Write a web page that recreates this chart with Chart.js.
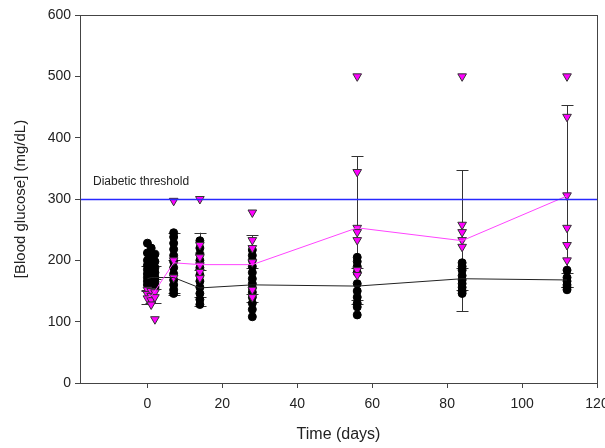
<!DOCTYPE html>
<html>
<head>
<meta charset="utf-8">
<script src="https://cdn.jsdelivr.net/npm/chart.js@4.4.0/dist/chart.umd.min.js"></script>
<style>
html, body { margin: 0; padding: 0; background: #fff; }
</style>
</head>
<body>
<canvas id="myChart" width="605" height="448"></canvas>
<script>
// Datos
const days = [0, 1, 2, 7, 14, 28, 56, 84, 112];
const xTicks = [0, 20, 40, 60, 80, 100, 120];
const yTicks = [0, 100, 200, 300, 400, 500, 600];
const threshold = 300;

// lecturas individuales por dia (control, circulos negros)
const controlReadings = [
    [228, 212, 200, 192, 185, 178, 172, 166, 160],
    [220, 205, 195, 182, 175, 168, 162, 158],
    [210, 198, 188, 180, 172, 165, 158, 155],
    [245, 238, 228, 218, 208, 198, 188, 178, 168, 160, 152, 146],
    [232, 220, 210, 200, 188, 176, 166, 156, 146, 136, 128],
    [217, 208, 200, 190, 180, 170, 162, 155, 148, 140, 130, 120, 108],
    [205, 198, 190, 180, 162, 150, 140, 130, 124, 111],
    [196, 190, 184, 175, 168, 162, 156, 150, 146],
    [184, 172, 166, 160, 156, 152]
];
// lecturas individuales por dia (diabeticos, triangulos magenta)
const diabeticReadings = [
    [152, 145, 138],
    [150, 142, 135, 128],
    [148, 140, 104],
    [297, 200, 172],
    [300, 225, 205, 192, 181, 171],
    [278, 233, 220, 197, 152, 140],
    [500, 344, 253, 246, 233, 184, 176],
    [500, 258, 246, 233, 222],
    [500, 434, 306, 253, 225, 200]
];

const controlMean = [170, 172, 172, 172, 155, 160, 158, 170, 168];
const controlSD = [20, 18, 18, 28, 30, 28, 30, 18, 12];
const diabeticMean = [140, 142, 150, 196, 193, 193, 253, 232, 305];
const diabeticSD = [12, 12, 20, 49, 52, 48, 117, 115, 148];

function toPoints(readings) {
    return days.flatMap((d, i) => readings[i].map(v => ({ x: d, y: v })));
}
function toLine(values) {
    return days.map((d, i) => ({ x: d, y: values[i] }));
}

Chart.defaults.font.family = '"Liberation Sans", Arial, sans-serif';
Chart.defaults.color = '#222';

// barras de error
const errorBars = {
    id: 'errorBars',
    beforeDatasetsDraw(chart) {
        const ctx = chart.ctx;
        const xs = chart.scales.x, ys = chart.scales.y;
        ctx.save();
        ctx.strokeStyle = '#333';
        ctx.lineWidth = 1;
        chart.data.datasets.forEach(ds => {
            if (!ds.sd) return;
            ds.data.forEach((p, i) => {
                const px = Math.round(xs.getPixelForValue(p.x)) + 0.5;
                const top = ys.getPixelForValue(p.y + ds.sd[i]);
                const bot = ys.getPixelForValue(p.y - ds.sd[i]);
                ctx.beginPath();
                ctx.moveTo(px, top); ctx.lineTo(px, bot);
                ctx.moveTo(px - 6, Math.round(top) + 0.5); ctx.lineTo(px + 6, Math.round(top) + 0.5);
                ctx.moveTo(px - 6, Math.round(bot) + 0.5); ctx.lineTo(px + 6, Math.round(bot) + 0.5);
                ctx.stroke();
            });
        });
        ctx.restore();
    }
};

// linea de umbral y marco
const thresholdLine = {
    id: 'thresholdLine',
    afterDatasetsDraw(chart) {
        const ctx = chart.ctx, a = chart.chartArea;
        const y = Math.round(chart.scales.y.getPixelForValue(threshold)) + 0.5;
        ctx.save();
        ctx.strokeStyle = 'rgb(40, 40, 255)';
        ctx.lineWidth = 1.3;
        ctx.beginPath();
        ctx.moveTo(a.left, y); ctx.lineTo(a.right, y);
        ctx.stroke();
        ctx.fillStyle = '#222';
        ctx.font = '12px "Liberation Sans", Arial, sans-serif';
        ctx.textBaseline = 'bottom';
        ctx.fillText('Diabetic threshold', a.left + 13, y - 12);
        ctx.restore();
    },
    afterDraw(chart) {
        const ctx = chart.ctx, a = chart.chartArea;
        ctx.save();
        ctx.strokeStyle = '#444';
        ctx.lineWidth = 1;
        ctx.strokeRect(Math.round(a.left) + 0.5, Math.round(a.top) + 0.5,
            Math.round(a.right - a.left), Math.round(a.bottom - a.top));
        ctx.restore();
    }
};

const config = {
    type: 'scatter',
    data: {
        datasets: [
            {
                label: 'Diabetic mean',
                type: 'line',
                data: toLine(diabeticMean),
                sd: diabeticSD,
                borderColor: '#ff44ff',
                borderWidth: 1,
                pointRadius: 0,
                fill: false,
                order: 1
            },
            {
                label: 'Control mean',
                type: 'line',
                data: toLine(controlMean),
                sd: controlSD,
                borderColor: '#222',
                borderWidth: 1,
                pointRadius: 0,
                fill: false,
                order: 2
            },
            {
                label: 'Diabetic',
                data: toPoints(diabeticReadings),
                pointStyle: 'triangle',
                rotation: 180,
                radius: 5,
                backgroundColor: '#ff00ff',
                borderColor: '#333',
                borderWidth: 1,
                order: 3
            },
            {
                label: 'Control',
                data: toPoints(controlReadings),
                pointStyle: 'circle',
                radius: 4,
                backgroundColor: '#000',
                borderColor: '#000',
                borderWidth: 1,
                order: 4
            }
        ]
    },
    options: {
        responsive: false,
        animation: false,
        layout: { padding: { top: 15, right: 8, left: 0, bottom: 0 } },
        plugins: {
            legend: { display: false },
            tooltip: { enabled: false }
        },
        scales: {
            x: {
                type: 'linear',
                min: -18,
                max: 120,
                afterBuildTicks: axis => { axis.ticks = xTicks.map(v => ({ value: v })); },
                afterFit: s => { s.height = 65; s.paddingLeft = 0; s.paddingRight = 0; },
                grid: { display: true, drawOnChartArea: false, drawTicks: true, tickLength: 5, color: '#444' },
                border: { display: true, color: '#444' },
                ticks: { font: { size: 14 }, color: '#222', padding: 8, maxRotation: 0 },
                title: { display: true, text: 'Time (days)', font: { size: 16 }, color: '#222', padding: { top: 6 } }
            },
            y: {
                type: 'linear',
                min: 0,
                max: 600,
                afterBuildTicks: axis => { axis.ticks = yTicks.map(v => ({ value: v })); },
                afterFit: s => { s.width = 80; s.paddingTop = 0; s.paddingBottom = 0; },
                grid: { display: true, drawOnChartArea: false, drawTicks: true, tickLength: 5, color: '#444' },
                border: { display: true, color: '#444' },
                ticks: { font: { size: 14 }, color: '#222', padding: 4 },
                title: { display: true, text: '[Blood glucose] (mg/dL)', font: { size: 15 }, color: '#222', padding: { top: 12, bottom: 4 } }
            }
        }
    },
    plugins: [thresholdLine, errorBars]
};

// Crear el grafico
var myChart = new Chart(document.getElementById('myChart'), config);
</script>
</body>
</html>
